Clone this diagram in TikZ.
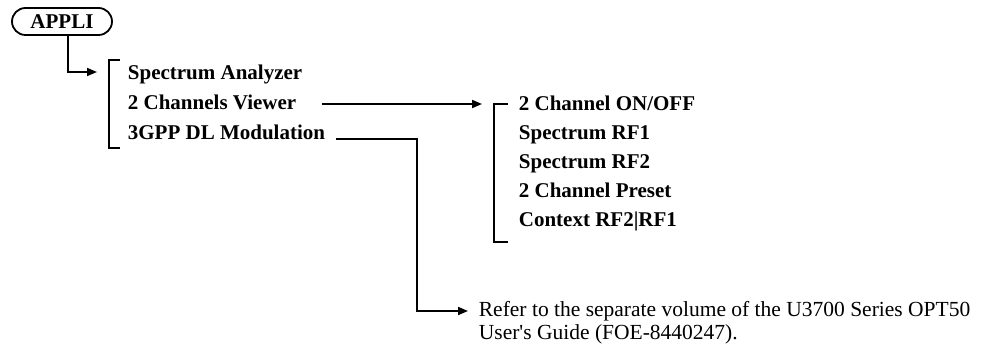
\documentclass[tikz,border=0pt]{standalone}
\usepackage{fontspec}
\setmainfont{Liberation Serif}[Ligatures=TeXOff]
\usetikzlibrary{arrows.meta}
\begin{document}
\begin{tikzpicture}[x=1pt,y=-1pt,
  line width=1.8pt,
  item/.style={anchor=base west,inner sep=0pt,font=\fontsize{21}{23}\selectfont\bfseries},
  note/.style={anchor=base west,inner sep=0pt,align=left,font=\fontsize{21.5}{23}\selectfont},
  tip/.style={-{Triangle[length=10pt,width=8pt]}},
  bracket/.style={line width=1.8pt}]
\useasboundingbox[fill=white] (0,0) rectangle (983,347);
% APPLI key
\node[draw,line width=1.8pt,rounded corners=13.5pt,minimum width=100pt,minimum height=27pt,inner sep=0pt,
      font=\fontsize{21}{23}\selectfont\bfseries] (appli) at (62,21.5) {APPLI};
% level 1 items
\node[item] (sa) at (127,80) {Spectrum Analyzer};
\node[item] (cv) at (127,110) {2 Channels Viewer};
\node[item] (gpp) at (127,140) {3GPP DL Modulation};
% level 2 items
\node[item] (onoff) at (518,111) {2 Channel ON/OFF};
\node[item] (rf1) at (518,140) {Spectrum RF1};
\node[item] (rf2) at (518,169) {Spectrum RF2};
\node[item] (preset) at (518,198) {2 Channel Preset};
\node[item] (ctx) at (518,227) {Context RF2|RF1};
% note (base = baseline of last line)
\node[note] (note) at (478,340) {Refer to the separate volume of the U3700 Series OPT50\\User's Guide (FOE-8440247).};
% coordinates
\coordinate (t1) at (97,72);
\coordinate (b1top) at (120,60);
\coordinate (b1bot) at (120,148);
\coordinate (c2s) at (322,104);
\coordinate (t2) at (482,104);
\coordinate (b2top) at (508,104);
\coordinate (b2bot) at (508,242);
\coordinate (c3s) at (336,139);
\coordinate (c3k) at (417,139);
\coordinate (t3) at (468,311);
% brackets
\draw[bracket] (b1top) -- (109,60) -- (109,148) -- (b1bot);
\draw[bracket] (b2top) -- (494,104) -- (494,242) -- (b2bot);
% connectors
\draw[tip] (appli.south -| 68,0) |- (t1);
\draw[tip] (c2s) -- (t2);
\draw[tip] (c3s) -- (c3k) |- (t3);
\end{tikzpicture}
\end{document}
